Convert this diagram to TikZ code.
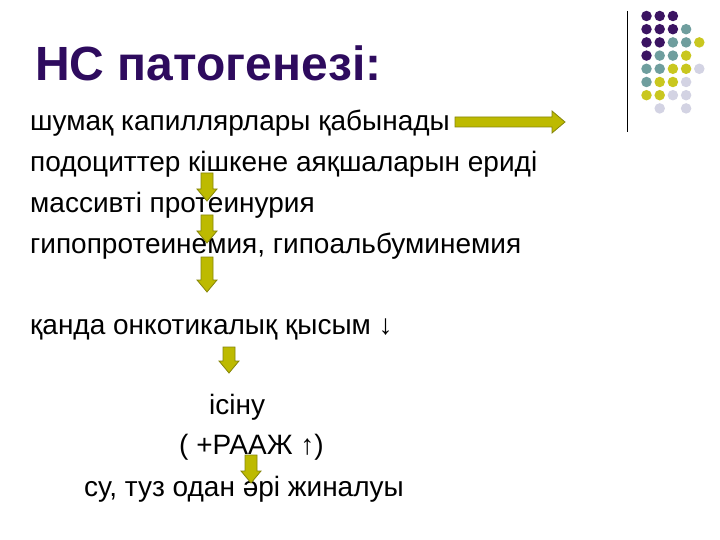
\documentclass[tikz,border=0pt]{standalone}
\usepackage{fontspec}
\setmainfont{Liberation Sans}
\definecolor{ttl}{HTML}{2E0B5E}
\definecolor{dp}{HTML}{3B1462}
\definecolor{dt}{HTML}{6F9E9E}
\definecolor{dy}{HTML}{C9C71F}
\definecolor{dl}{HTML}{D3D3E3}
\definecolor{arf}{HTML}{BDBA00}
\definecolor{ard}{HTML}{85850A}
\tikzset{
  body/.style={anchor=base west, inner sep=0pt, font=\fontsize{28}{32}\selectfont},
  ttlstyle/.style={anchor=base west, inner sep=0pt, text=ttl, font=\fontsize{48}{52}\selectfont\bfseries},
  blockarr/.style={fill=arf, draw=ard, line width=0.8pt, line join=miter},
  dot/.style={circle, inner sep=0pt, minimum size=10.5pt}
}
\newcommand\darrow[3]{% x, ytop, ybottom
  \path[blockarr] (#1-6,#2) -- (#1+6,#2) -- (#1+6,#3-12) -- (#1+10,#3-12) -- (#1,#3) -- (#1-10,#3-12) -- (#1-6,#3-12) -- cycle;}
\begin{document}
\begin{tikzpicture}[x=1pt,y=-1pt]
\useasboundingbox (0,0) rectangle (720,540);
\fill[white] (0,0) rectangle (720,540);
% vertical rule
\coordinate (r1) at (627,11);
\coordinate (r2) at (627,132);
\draw[line width=1pt] (r1) -- (r2);
% dots
\foreach \c/\r/\col in {0/0/dp,1/0/dp,2/0/dp,
  0/1/dp,1/1/dp,2/1/dp,3/1/dt,
  0/2/dp,1/2/dp,2/2/dt,3/2/dt,4/2/dy,
  0/3/dp,1/3/dt,2/3/dt,3/3/dy,
  0/4/dt,1/4/dt,2/4/dy,3/4/dy,4/4/dl,
  0/5/dt,1/5/dy,2/5/dy,3/5/dl,
  0/6/dy,1/6/dy,2/6/dl,3/6/dl,
  1/7/dl,3/7/dl}
  \node[dot, fill=\col] (d\c\r) at ({646.5+13.2*\c},{16+13.2*\r}) {};
% title
\node[ttlstyle] (title) at (35,81) {НС патогенезі:};
% body
\node[body] (l1) at (30,131) {шумақ капиллярлары қабынады};
\node[body] (l2) at (30,172) {подоциттер кішкене аяқшаларын ериді};
\node[body] (l3) at (30,212) {массивті протеинурия};
\node[body] (l4) at (30,253) {гипопротеинемия, гипоальбуминемия};
\node[body] (l5) at (30,334) {қанда онкотикалық қысым ↓};
\node[body] (l6) at (209,414) {ісіну};
\node[body] (l7) at (179,454) {( +РААЖ ↑)};
\node[body] (l8) at (84,496) {су, туз одан әрі жиналуы};
% horizontal arrow
\path[blockarr] (455,117) -- (552,117) -- (552,111) -- (565,122) -- (552,133) -- (552,127) -- (455,127) -- cycle;
% down arrows
\darrow{207}{173}{201}
\darrow{207}{215}{243}
\darrow{207}{257}{292}
\darrow{229}{347}{373}
\darrow{251}{455}{483}
\end{tikzpicture}
\end{document}
